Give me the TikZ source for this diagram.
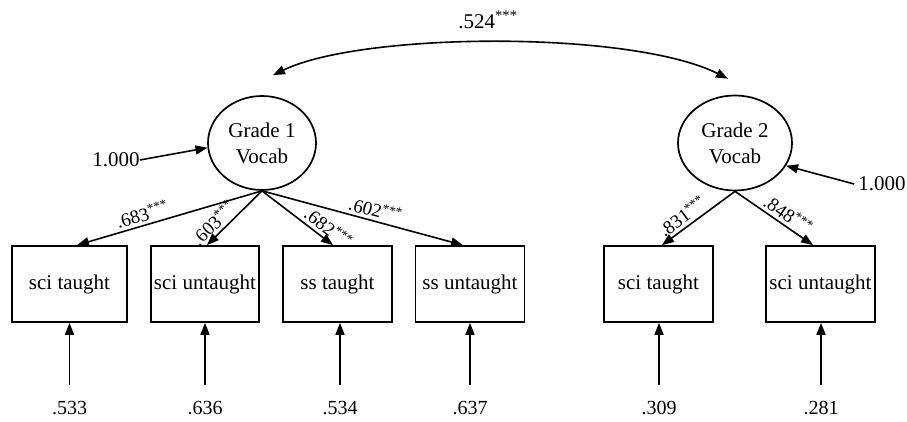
\documentclass[tikz,border=0pt]{standalone}
\usepackage{fontspec}
\setmainfont{Liberation Serif}
\usetikzlibrary{arrows.meta,shapes.geometric}
\begin{document}
\begin{tikzpicture}[x=1pt,y=-1pt,
  lat/.style={ellipse,draw,line width=1.7pt,inner sep=0pt,align=center,font=\fontsize{21}{26}\selectfont},
  obs/.style={rectangle,draw,line width=1.7pt,minimum height=76pt,inner sep=0pt,font=\fontsize{21}{25}\selectfont},
  arr/.style={line width=1.6pt,-{Triangle[length=12pt,width=9pt]}},
  dbl/.style={line width=1.6pt,{Triangle[length=12pt,width=9pt]}-{Triangle[length=12pt,width=9pt]}},
  lbl/.style={font=\fontsize{20}{24}\selectfont,inner sep=0pt},
  ld/.style={sloped,above,font=\fontsize{19}{22}\selectfont,inner sep=3pt}]
\useasboundingbox (0,0) rectangle (907,422);

% latent variables
\node[lat,minimum width=108pt,minimum height=94pt] (g1) at (262,143) {Grade 1\\Vocab};
\node[lat,minimum width=114pt,minimum height=95pt] (g2) at (735,143) {Grade 2\\Vocab};

% observed variables
\node[obs,minimum width=115pt] (b1) at (69.5,284) {sci taught};
\node[obs,minimum width=108pt] (b2) at (205,284) {sci untaught};
\node[obs,minimum width=109pt] (b3) at (337.5,284) {ss taught};
\node[obs,minimum width=109pt] (b4) at (470,284) {ss untaught};
\node[obs,minimum width=109pt] (b5) at (658.5,284) {sci taught};
\node[obs,minimum width=109pt] (b6) at (820.5,284) {sci untaught};

% loadings
\draw[arr] (g1.south) -- ([xshift=7.5pt]b1.north) node[ld,pos=0.63] {.683\textsuperscript{***}};
\draw[arr] (g1.south) -- ([xshift=2pt]b2.north) node[ld,pos=0.74] {.603\textsuperscript{***}};
\draw[arr] (g1.south) -- ([xshift=-4.5pt]b3.north) node[ld,pos=0.84] {.682\textsuperscript{***}};
\draw[arr] (g1.south) -- ([xshift=-7pt]b4.north) node[ld,pos=0.55] {.602\textsuperscript{***}};
\draw[arr] (g2.south) -- ([xshift=3.5pt]b5.north) node[ld,pos=0.63] {.831\textsuperscript{***}};
\draw[arr] (g2.south) -- ([xshift=-7.5pt]b6.north) node[ld,pos=0.6] {.848\textsuperscript{***}};

% covariance
\coordinate (c1) at ([shift={(11pt,20pt)}]g1.north);
\coordinate (c2) at ([shift={(-7pt,16pt)}]g2.north);
\draw[dbl] (c1) .. controls (362,32) and (630,30) .. (c2);
\node[lbl,font=\fontsize{21}{25}\selectfont] (cov) at (488,20) {.524\textsuperscript{***}};

% factor variances
\node[lbl,font=\fontsize{21}{25}\selectfont] (v1) at (116,160) {1.000};
\draw[arr] (v1.east) -- (g1.185);
\node[lbl,font=\fontsize{21}{25}\selectfont] (v2) at (882,184) {1.000};
\draw[arr] ([xshift=-4pt]v2.west) -- (g2.-24);

% error terms
\node[lbl] (e1) at (69.5,408) {.533};
\node[lbl] (e2) at (205,408) {.636};
\node[lbl] (e3) at (340,408) {.534};
\node[lbl] (e4) at (470,408) {.637};
\node[lbl] (e5) at (659,408) {.309};
\node[lbl] (e6) at (821,408) {.281};
\foreach \i in {1,...,6}{
  \draw[arr] ([yshift=16pt]e\i.north) -- (b\i.south -| e\i.north);
}
\end{tikzpicture}
\end{document}
